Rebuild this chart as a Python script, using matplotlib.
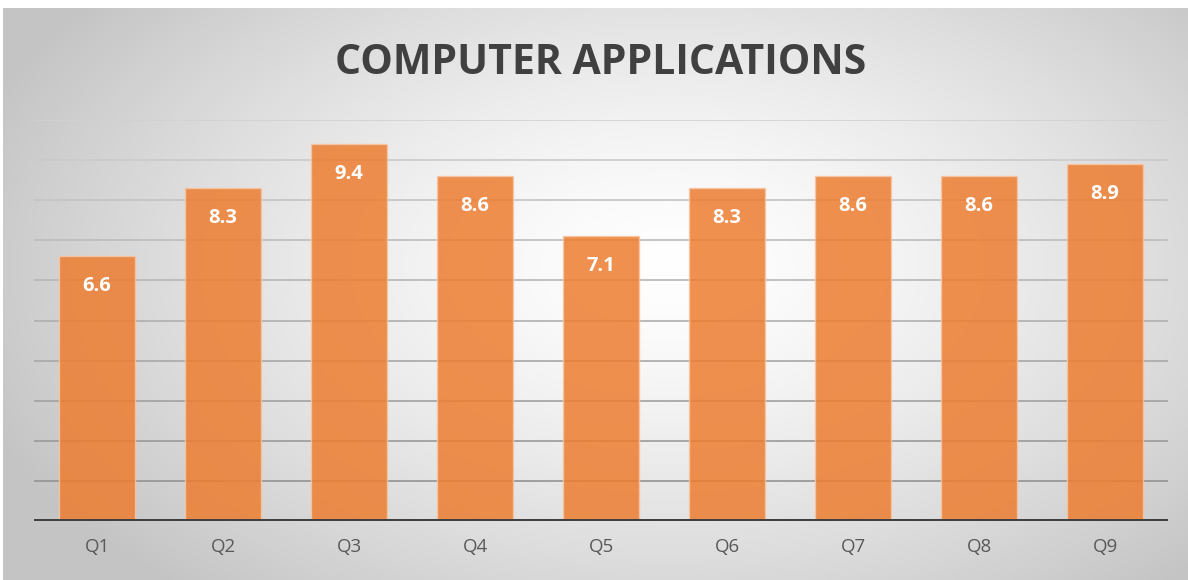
import numpy as np
import matplotlib
matplotlib.use("Agg")
import matplotlib.pyplot as plt

categories = ["Q1", "Q2", "Q3", "Q4", "Q5", "Q6", "Q7", "Q8", "Q9"]
values = [6.6, 8.3, 9.4, 8.6, 7.1, 8.3, 8.6, 8.6, 8.9]
title = "COMPUTER APPLICATIONS"

W, H = 1188, 580
fig = plt.figure(figsize=(W / 100, H / 100), dpi=100)
fig.patch.set_facecolor("white")

# background panel with radial gradient
bx0, by1 = 3 / W, 1 - 8 / H
bg = fig.add_axes([bx0, 0, 1 - bx0, by1])
bg.set_axis_off()
ny, nx = 300, 600
yy, xx = np.mgrid[0:ny, 0:nx]
cx, cy = 0.56 * nx, 0.45 * ny
d = np.sqrt(((xx - cx) / (0.62 * nx)) ** 2 + ((yy - cy) / (0.75 * ny)) ** 2)
d = np.clip(d, 0, 1)
val = 1.0 - (1.0 - 0.77) * d ** 1.4
img = np.dstack([val, val, val])
bg.imshow(img, aspect="auto", extent=[0, 1, 0, 1], origin="upper")
bg.set_xlim(0, 1)
bg.set_ylim(0, 1)

left, right = 34 / W, 1168 / W
bottom, top = 1 - 521 / H, 1 - 120 / H
ax = fig.add_axes([left, bottom, right - left, top - bottom])
ax.set_facecolor("none")
x = np.arange(len(categories))
ax.set_xlim(-0.5, len(categories) - 0.5)
ax.set_ylim(0, 10)

# gridlines
for g in range(1, 11):
    t = g / 10
    c = 0.55 + 0.27 * t
    ax.axhline(g, color=(c, c, c), lw=1.2, zorder=1)

bars = ax.bar(x, values, width=0.6, color="#ED7D31", alpha=0.85,
              edgecolor="#f6c7a3", linewidth=1.0, zorder=2)
ax.axhline(0, color="#404040", lw=3.6, zorder=3)

for xi, v in zip(x, values):
    ax.annotate(f"{v:.1f}", (xi, v), xytext=(0, -21.5), textcoords="offset points",
                ha="center", va="center", color="white", fontsize=14.5,
                fontweight="bold", family="Open Sans", zorder=4)

ax.set_xticks(x)
ax.set_xticklabels(categories, fontsize=13.5, color="#595959", family="Open Sans")
ax.tick_params(axis="x", length=0, pad=12)
ax.set_yticks([])
for s in ax.spines.values():
    s.set_visible(False)

fig.text(0.5057, 1 - 63 / H, title, ha="center", va="center", fontsize=29.5,
         fontweight="bold", color="#404040", family="Open Sans")

fig.savefig("out.png", dpi=100)
